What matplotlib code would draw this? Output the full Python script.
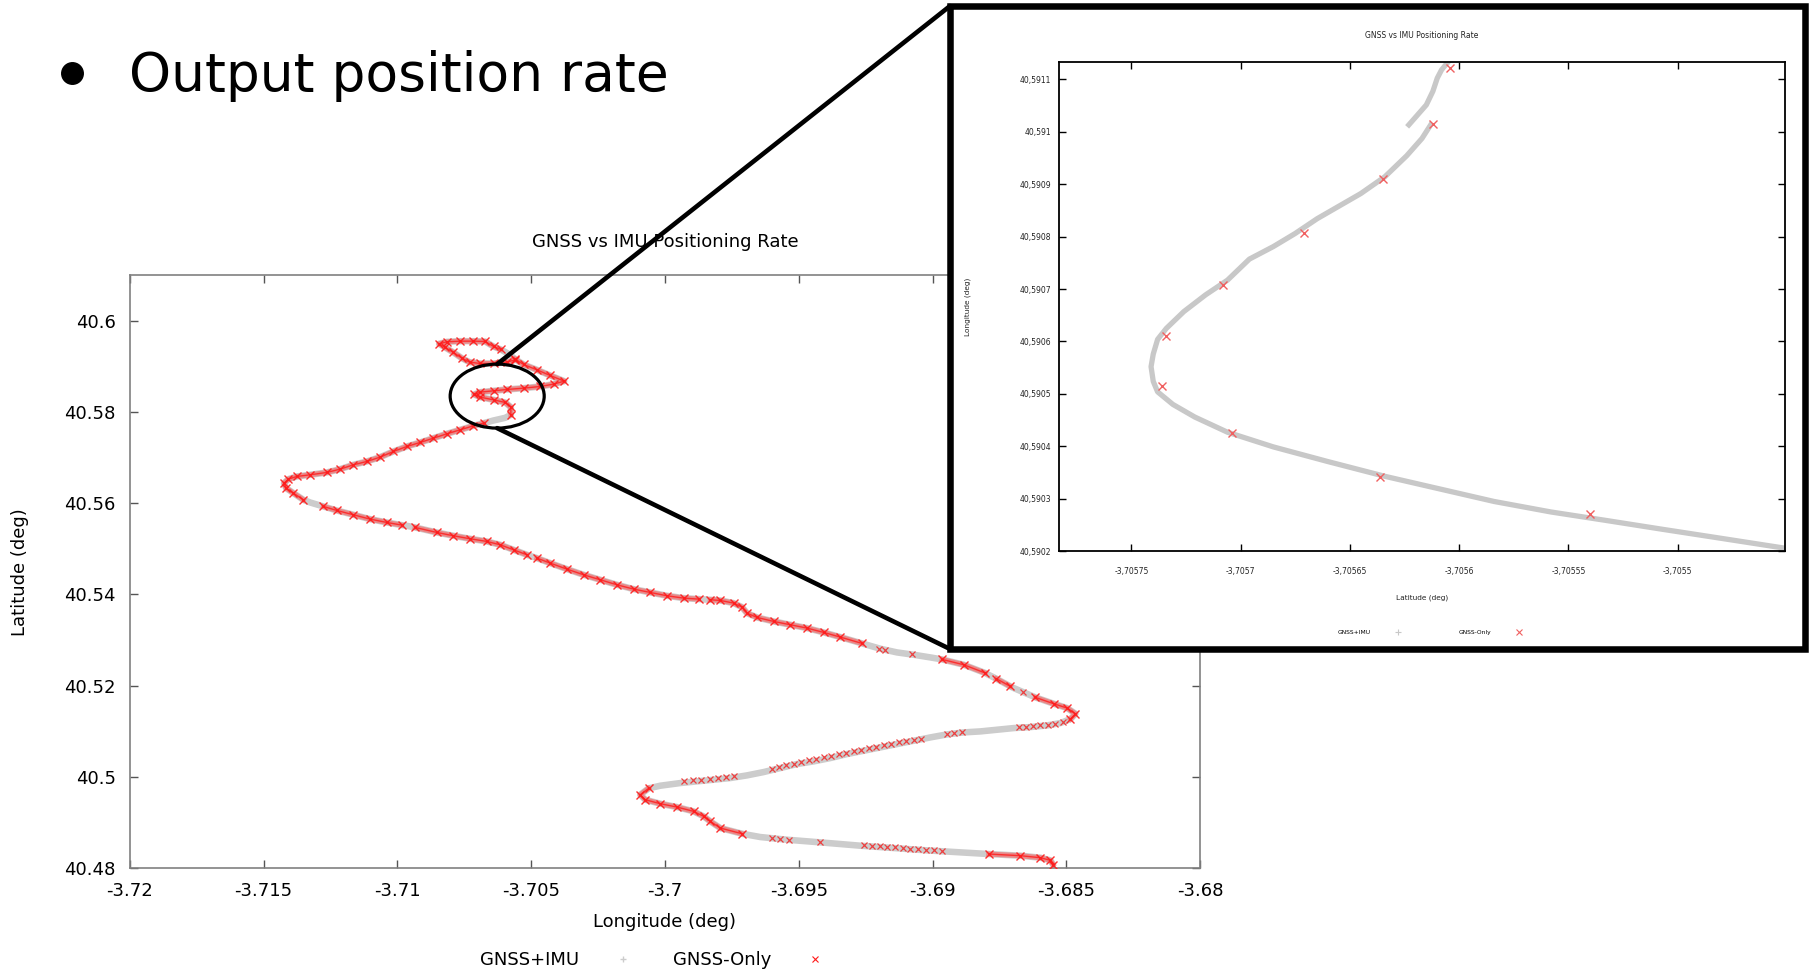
import numpy as np
import matplotlib
matplotlib.use("Agg")
import matplotlib.pyplot as plt
from matplotlib.patches import Ellipse, Rectangle, ConnectionPatch
from matplotlib.lines import Line2D

plt.rcParams['font.family'] = 'DejaVu Sans'

#%% data

# GNSS+IMU trajectory (lon, lat), in driving order
path_lon = [
    -3.705596, -3.705908, -3.706406, -3.706905, -3.707303, -3.707590, -3.707902, -3.708213, -3.708437, -3.708151,
    -3.707652, -3.707154, -3.706718, -3.706406, -3.706132, -3.705808, -3.705596, -3.705285, -3.704786, -3.704288,
    -3.703765, -3.704163, -3.704662, -3.705285, -3.705908, -3.706406, -3.706905, -3.707129, -3.706905, -3.706406,
    -3.705970, -3.705758, -3.705758, -3.705970, -3.706406, -3.706780, -3.707154, -3.707652, -3.708151, -3.708649,
    -3.709148, -3.709646, -3.710145, -3.710643, -3.711141, -3.711640, -3.712138, -3.712637, -3.713260, -3.713758,
    -3.714070, -3.714232, -3.714157, -3.713883, -3.713509, -3.713260, -3.712761, -3.712263, -3.711640, -3.711017,
    -3.710394, -3.709833, -3.709584, -3.709335, -3.708525, -3.707902, -3.707279, -3.706656, -3.706157, -3.705659,
    -3.705160, -3.704973, -3.704786, -3.704288, -3.703665, -3.703042, -3.702419, -3.701796, -3.701173, -3.700550,
    -3.699927, -3.699304, -3.698743, -3.698531, -3.698307, -3.697933, -3.697434, -3.697123, -3.696936, -3.696562,
    -3.695939, -3.695316, -3.694693, -3.694070, -3.693447, -3.692637, -3.691951, -3.691328, -3.690705, -3.690082,
    -3.689646, -3.688836, -3.688026, -3.687839, -3.687615, -3.687092, -3.686967, -3.686593, -3.686157, -3.685472,
    -3.684973, -3.684662, -3.684849, -3.685223, -3.685721, -3.686344, -3.686967, -3.687590, -3.688213, -3.688836,
    -3.689459, -3.690082, -3.690705, -3.691328, -3.691951, -3.692574, -3.693197, -3.693821, -3.694444, -3.695067,
    -3.695690, -3.696313, -3.696936, -3.697559, -3.698182, -3.698805, -3.699428, -3.700176, -3.700612, -3.700923,
    -3.700736, -3.700176, -3.699553, -3.698930, -3.698556, -3.698307, -3.697933, -3.697123, -3.696437, -3.695441,
    -3.694194, -3.692699, -3.691453, -3.690207, -3.688961, -3.687902, -3.686718, -3.685970, -3.685596, -3.685497,
]
path_lat = [
    40.591413, 40.590901, 40.590609, 40.590609, 40.590901, 40.591778, 40.593019, 40.594114, 40.594918, 40.595356,
    40.595502, 40.595502, 40.595429, 40.594333, 40.593676, 40.592581, 40.591559, 40.590390, 40.589222, 40.587981,
    40.586739, 40.586082, 40.585571, 40.585206, 40.584914, 40.584622, 40.584330, 40.583819, 40.583234, 40.582650,
    40.582066, 40.581044, 40.579364, 40.578707, 40.578123, 40.577539, 40.576955, 40.576078, 40.575202, 40.574253,
    40.573304, 40.572427, 40.571332, 40.570091, 40.569141, 40.568411, 40.567462, 40.566732, 40.566221, 40.565856,
    40.565271, 40.564395, 40.563300, 40.562205, 40.560744, 40.560160, 40.559284, 40.558408, 40.557458, 40.556509,
    40.555779, 40.555195, 40.554976, 40.554684, 40.553588, 40.552858, 40.552201, 40.551617, 40.550886, 40.549791,
    40.548696, 40.548331, 40.547966, 40.546870, 40.545556, 40.544315, 40.543219, 40.542124, 40.541175, 40.540445,
    40.539714, 40.539203, 40.538984, 40.538911, 40.538838, 40.538692, 40.538108, 40.537232, 40.535917, 40.534968,
    40.534092, 40.533362, 40.532632, 40.531683, 40.530660, 40.529273, 40.528105, 40.527301, 40.526790, 40.526206,
    40.525768, 40.524600, 40.522774, 40.522190, 40.521533, 40.519853, 40.519488, 40.518539, 40.517444, 40.516056,
    40.515107, 40.513866, 40.512697, 40.511821, 40.511310, 40.510945, 40.510726, 40.510361, 40.509996, 40.509777,
    40.509339, 40.508681, 40.507951, 40.507221, 40.506491, 40.505761, 40.505030, 40.504154, 40.503424, 40.502840,
    40.501963, 40.501087, 40.500357, 40.499773, 40.499408, 40.499043, 40.498678, 40.498094, 40.497510, 40.496122,
    40.495027, 40.494151, 40.493421, 40.492471, 40.491376, 40.490281, 40.488820, 40.487579, 40.486849, 40.486265,
    40.485680, 40.484950, 40.484439, 40.483928, 40.483490, 40.483125, 40.482760, 40.482322, 40.481738, 40.480788,
]
# 1 where the GNSS-only fixes are dense along the path
gnss_fix = [
    1, 1, 1, 1, 1, 1, 1, 1, 1, 1,
    1, 1, 1, 1, 1, 0, 1, 1, 1, 1,
    1, 1, 1, 1, 1, 1, 1, 1, 1, 1,
    1, 1, 1, 0, 0, 1, 1, 1, 1, 1,
    1, 1, 1, 1, 1, 1, 1, 1, 1, 1,
    1, 1, 1, 1, 1, 0, 1, 1, 1, 1,
    1, 1, 0, 1, 1, 1, 1, 1, 1, 1,
    1, 0, 1, 1, 1, 1, 1, 1, 1, 1,
    1, 1, 1, 0, 1, 1, 1, 1, 1, 1,
    1, 1, 1, 1, 1, 1, 0, 0, 0, 0,
    1, 1, 1, 0, 1, 1, 0, 0, 1, 1,
    1, 1, 1, 0, 0, 0, 0, 0, 0, 0,
    0, 0, 0, 0, 0, 0, 0, 0, 0, 0,
    0, 0, 0, 0, 0, 0, 0, 0, 1, 1,
    1, 1, 1, 1, 1, 1, 1, 1, 0, 0,
    0, 0, 0, 0, 0, 1, 1, 1, 1, 1,
]
# single GNSS-only fixes where the coverage is thin
gnss_lon = [
    -3.691989, -3.691789, -3.690768, -3.686631,
    -3.685135, -3.685409, -3.685696, -3.685970, -3.686244, -3.686506, -3.686780,
    -3.688886, -3.689185, -3.689459,
    -3.690431, -3.690705, -3.690979, -3.691266, -3.691553, -3.691827, -3.692101,
    -3.692388, -3.692674, -3.692948, -3.693235, -3.693509, -3.693796, -3.694070,
    -3.694344, -3.694631, -3.694917, -3.695191, -3.695465, -3.695727, -3.696001,
    -3.697434, -3.697721, -3.698020, -3.698331, -3.698643, -3.698954, -3.699278,
    -3.695989, -3.695690, -3.695378, -3.694219,
    -3.692550, -3.692263, -3.691976, -3.691702, -3.691416, -3.691117, -3.690830,
    -3.690543, -3.690244, -3.689958, -3.689646,
]
gnss_lat = [
    40.528032, 40.527886, 40.526863, 40.518539,
    40.512040, 40.511675, 40.511456, 40.511310, 40.511164, 40.511018, 40.510945,
    40.509850, 40.509631, 40.509485,
    40.508389, 40.508170, 40.507951, 40.507586, 40.507294, 40.507002, 40.506637,
    40.506345, 40.505980, 40.505688, 40.505322, 40.505030, 40.504665, 40.504300,
    40.503935, 40.503643, 40.503278, 40.502913, 40.502548, 40.502183, 40.501817,
    40.500284, 40.499992, 40.499773, 40.499627, 40.499408, 40.499262, 40.499043,
    40.486630, 40.486411, 40.486265, 40.485680,
    40.485023, 40.484877, 40.484804, 40.484658, 40.484585, 40.484439, 40.484293,
    40.484220, 40.484074, 40.483928, 40.483782,
]

# zoomed view (two pieces of the IMU track + GNSS fixes)
zoom_a_lon = [-3.705605, -3.705608, -3.705610, -3.705612, -3.705615, -3.705619, -3.705623]
zoom_a_lat = [40.591133, 40.591118, 40.591102, 40.591077, 40.591051, 40.591032, 40.591013]
zoom_b_lon = [
    -3.705613, -3.705617, -3.705624, -3.705634, -3.705645, -3.705655, -3.705665, -3.705675,
    -3.705685, -3.705696, -3.705706, -3.705716, -3.705726, -3.705734, -3.705738, -3.705740,
    -3.705741, -3.705740, -3.705738, -3.705731, -3.705721, -3.705706, -3.705685, -3.705660,
    -3.705634, -3.705609, -3.705584, -3.705558, -3.705533, -3.705507, -3.705482, -3.705451,
]
zoom_b_lat = [
    40.591013, 40.590987, 40.590954, 40.590914, 40.590882, 40.590858, 40.590834, 40.590806,
    40.590781, 40.590757, 40.590717, 40.590689, 40.590657, 40.590625, 40.590604, 40.590576,
    40.590552, 40.590524, 40.590504, 40.590480, 40.590456, 40.590427, 40.590399, 40.590371,
    40.590343, 40.590319, 40.590295, 40.590275, 40.590259, 40.590242, 40.590226, 40.590206,
]
zoom_gnss_lon = [-3.705604, -3.705612, -3.705635, -3.705671, -3.705708,
                 -3.705734, -3.705736, -3.705704, -3.705636, -3.705540]
zoom_gnss_lat = [40.591121, 40.591014, 40.590909, 40.590807, 40.590708,
                 40.590611, 40.590516, 40.590426, 40.590342, 40.590271]

lon_ticks = [-3.72, -3.715, -3.71, -3.705, -3.7, -3.695, -3.69, -3.685, -3.68]
lat_ticks = [40.48, 40.5, 40.52, 40.54, 40.56, 40.58, 40.6]
zoom_lon_ticks = [-3.70575, -3.7057, -3.70565, -3.7056, -3.70555, -3.7055]
zoom_lat_ticks = [40.5902, 40.5903, 40.5904, 40.5905, 40.5906, 40.5907,
                  40.5908, 40.5909, 40.591, 40.5911]

# marked area on the big map
circle_lon, circle_lat = -3.706269, 40.583461
circle_w, circle_h = 0.003514, 0.014020

#%% figure

GRAY = '#cccccc'
RED = '#ff1a1a'

fig = plt.figure(figsize=(18.1, 9.72), dpi=100)

# slide heading
fig.add_artist(Line2D([72 / 1810], [1 - 73 / 972], marker='o', ms=15.5,
                      color='black', transform=fig.transFigure))
fig.text(0.0715, 1 - 90.7 / 972, 'Output position rate', fontsize=38.5,
         ha='left', va='baseline')

# main map
ax = fig.add_axes([0.07166, 0.10669, 0.59144, 0.61039])
lon = np.array(path_lon)
lat = np.array(path_lat)
fix = np.array(gnss_fix)
ax.plot(lon, lat, color=GRAY, lw=4.7, solid_capstyle='round', zorder=2)
run_lat = np.where(fix == 1, lat, np.nan)
# dense GNSS fixes: overlapping crosses read as a pink/red band
ax.plot(lon, run_lat, color='#ff5a5a', lw=3.6, alpha=0.6, zorder=3)
ax.plot(lon, run_lat, color=RED, lw=1.0, alpha=0.8, zorder=3)
ax.plot(lon, run_lat, ls='none', marker='x', ms=5.5, mew=1.0, color=RED,
        alpha=0.9, zorder=3)
ax.plot(gnss_lon, gnss_lat, ls='none', marker='x', ms=5, mew=0.9,
        color='#f03030', alpha=0.9, zorder=3)

ax.set_xlim(-3.72, -3.68)
ax.set_ylim(40.48, 40.61)
ax.set_xticks(lon_ticks)
ax.set_xticklabels([f'{v:g}' for v in lon_ticks])
ax.set_yticks(lat_ticks)
ax.set_yticklabels([f'{v:g}' for v in lat_ticks])
ax.tick_params(direction='in', length=5.5, width=1, color='#555555',
               top=True, right=True, labelsize=13, pad=10)
for s in ax.spines.values():
    s.set_color('#808080')
    s.set_linewidth(1.2)
ax.set_title('GNSS vs IMU Positioning Rate', fontsize=13, pad=20)
ax.set_xlabel('Longitude (deg)', fontsize=13)
ax.xaxis.label.set_verticalalignment('center')
ax.xaxis.set_label_coords(0.5, -0.090)
ax.set_ylabel('Latitude (deg)', fontsize=13)
ax.yaxis.label.set_verticalalignment('center')
ax.yaxis.set_label_coords(-0.1029, 0.5)

ell = Ellipse((circle_lon, circle_lat), circle_w, circle_h, fill=False,
              ec='black', lw=2.3, zorder=5, clip_on=False)
ax.add_patch(ell)

h_imu = Line2D([], [], ls='none', marker='+', ms=5, mew=1, color=GRAY)
h_gnss = Line2D([], [], ls='none', marker='x', ms=5, mew=0.8, color=RED)
ax.legend([h_imu, h_gnss], ['GNSS+IMU', 'GNSS-Only'], ncol=2, frameon=False,
          markerfirst=False, fontsize=13, handlelength=1.0, handletextpad=1.94,
          columnspacing=2.27, borderpad=0, loc='center',
          bbox_to_anchor=(652 / 1810, 1 - 960 / 972),
          bbox_transform=fig.transFigure)

# zoom frame
box = Rectangle((0.52486, 0.33230), 0.47238, 0.66152, transform=fig.transFigure,
                facecolor='white', edgecolor='black', lw=4.7, zorder=1.5)
fig.add_artist(box)

for yb in (0.33230 + 0.66152, 0.33230):
    yc = circle_lat + circle_h / 2 if yb > 0.5 else circle_lat - circle_h / 2
    con = ConnectionPatch(xyA=(circle_lon, yc), coordsA=ax.transData,
                          xyB=(0.52486, yb), coordsB=fig.transFigure,
                          color='black', lw=3.3, zorder=4)
    fig.add_artist(con)

# zoomed plot
axz = fig.add_axes([0.58525, 0.43282, 0.40072, 0.50350], zorder=2)
axz.plot(zoom_a_lon, zoom_a_lat, color='#c8c8c8', lw=3.8)
axz.plot(zoom_b_lon, zoom_b_lat, color='#c8c8c8', lw=3.8)
axz.plot(zoom_gnss_lon, zoom_gnss_lat, ls='none', marker='x', ms=5.5, mew=1,
         color='#f06060')
axz.set_xlim(-3.705783, -3.705451)
axz.set_ylim(40.5902, 40.591133)
axz.set_xticks(zoom_lon_ticks)
axz.set_xticklabels([f'{v:g}'.replace('.', ',') for v in zoom_lon_ticks])
axz.set_yticks(zoom_lat_ticks)
axz.set_yticklabels([f'{v:g}'.replace('.', ',') for v in zoom_lat_ticks])
axz.tick_params(direction='in', length=5, width=1, color='black', top=True,
                right=True, labelsize=5.5, labelcolor='#222222')
axz.tick_params(axis='x', pad=11)
axz.tick_params(axis='y', pad=6)
for s in axz.spines.values():
    s.set_color('black')
    s.set_linewidth(1.3)
axz.set_title('GNSS vs IMU Positioning Rate', fontsize=5.5, pad=17,
              color='#222222')
axz.set_xlabel('Latitude (deg)', fontsize=5.3, color='#222222')
axz.xaxis.label.set_verticalalignment('center')
axz.xaxis.set_label_coords(0.5, -0.0946)
axz.set_ylabel('Longitude (deg)', fontsize=5.3, color='#222222')
axz.yaxis.label.set_verticalalignment('center')
axz.yaxis.set_label_coords(-0.1263, 0.5)

hz_imu = Line2D([], [], ls='none', marker='+', ms=4, mew=0.8, color='#c8c8c8')
hz_gnss = Line2D([], [], ls='none', marker='x', ms=4, mew=0.8, color='#f06060')
axz.legend([hz_imu, hz_gnss], ['GNSS+IMU', 'GNSS-Only'], ncol=2, frameon=False,
           markerfirst=False, fontsize=4.3, handlelength=1.0, handletextpad=4.1,
           columnspacing=9.7, borderpad=0, loc='center',
           bbox_to_anchor=(1429.5 / 1810, 1 - 632.6 / 972),
           bbox_transform=fig.transFigure)

fig.savefig('out.png', dpi=100)
